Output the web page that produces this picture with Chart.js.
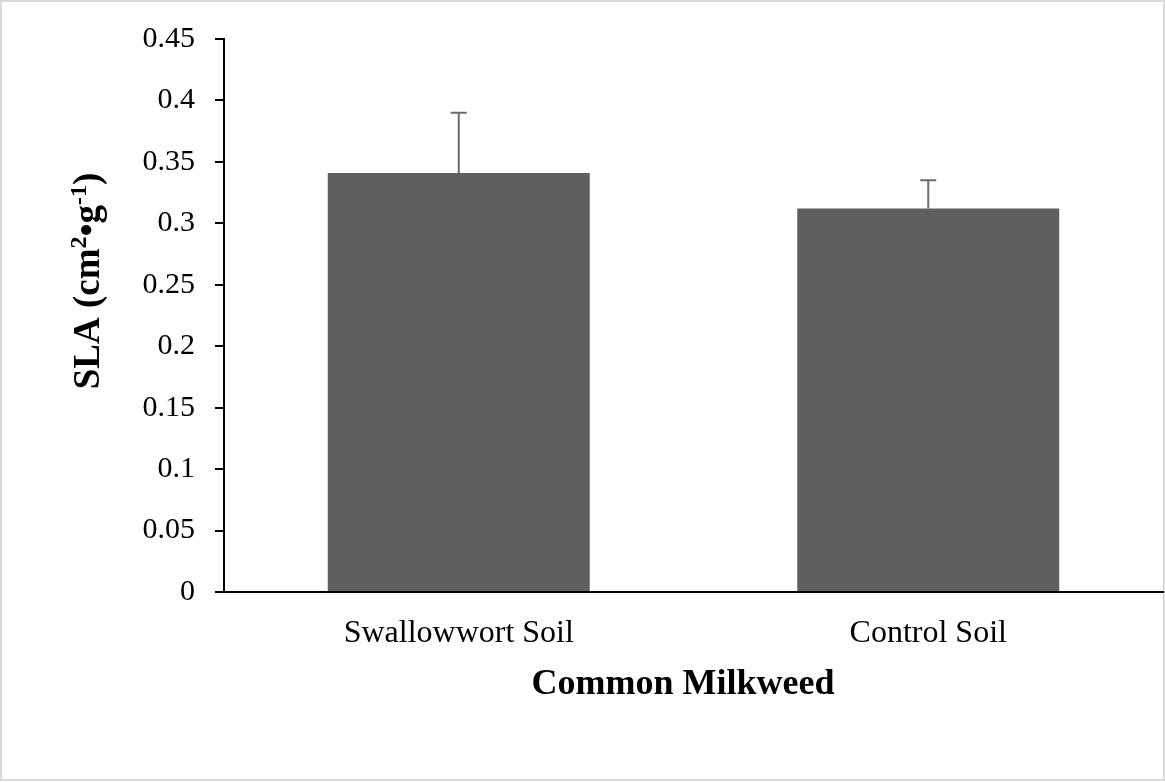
<!DOCTYPE html>
<html>
<head>
<meta charset="utf-8">
<script src="https://cdn.jsdelivr.net/npm/chart.js@4.4.1/dist/chart.umd.min.js"></script>
<style>
  body { margin: 0; background: #fff; }
  canvas { display: block; }
</style>
</head>
<body>
<canvas id="myChart" width="1165" height="782"></canvas>
<script>
let categories = ['Swallowwort Soil', 'Control Soil'];
let slaMeans = [0.341, 0.312];
let slaErrors = [0.049, 0.023];
let yMin = 0, yMax = 0.45, yStep = 0.05;

let serif = "'Liberation Serif', 'Times New Roman', serif";

// page frame + white background
let framePlugin = {
  id: 'frame',
  beforeDraw: (chart) => {
    let c = chart.ctx;
    c.save();
    c.fillStyle = '#fff';
    c.fillRect(0, 0, chart.width, chart.height);
    c.strokeStyle = '#d9d9d9';
    c.lineWidth = 2;
    c.strokeRect(1, 1, chart.width - 2, chart.height - 3);
    c.restore();
  }
};

// upward-only error bars
let errorPlugin = {
  id: 'errbars',
  afterDatasetsDraw: (chart) => {
    let c = chart.ctx;
    let meta = chart.getDatasetMeta(0);
    let yScale = chart.scales.y;
    c.save();
    c.strokeStyle = '#6b6b6b';
    c.lineWidth = 2;
    meta.data.forEach((bar, i) => {
      let yTop = yScale.getPixelForValue(slaMeans[i] + slaErrors[i]);
      c.beginPath();
      c.moveTo(bar.x, bar.y);
      c.lineTo(bar.x, yTop);
      c.moveTo(bar.x - 8, yTop);
      c.lineTo(bar.x + 8, yTop);
      c.stroke();
    });
    c.restore();
  }
};

// axis titles (y title needs superscripts)
let titlePlugin = {
  id: 'titles',
  afterDraw: (chart) => {
    let c = chart.ctx;
    c.save();
    c.fillStyle = '#000';
    c.textBaseline = 'alphabetic';
    c.font = 'bold 36px ' + serif;
    c.textAlign = 'center';
    c.fillText('Common Milkweed', 683, 694);

    let parts = [
      { t: 'SLA (cm', sup: false },
      { t: '2', sup: true },
      { t: '•g', sup: false },
      { t: '-1', sup: true },
      { t: ')', sup: false }
    ];
    let big = 'bold 37px ' + serif, small = 'bold 24px ' + serif;
    let total = 0;
    parts.forEach(p => { c.font = p.sup ? small : big; p.w = c.measureText(p.t).width; total += p.w; });
    c.translate(99, 281);
    c.rotate(-Math.PI / 2);
    c.textAlign = 'left';
    let x = -total / 2;
    parts.forEach(p => {
      c.font = p.sup ? small : big;
      c.fillText(p.t, x, p.sup ? -13 : 0);
      x += p.w;
    });
    c.restore();
  }
};

let ctx = document.getElementById('myChart').getContext('2d');
let myChart = new Chart(ctx, {
  type: 'bar',
  data: {
    labels: categories,
    datasets: [{
      data: slaMeans,
      backgroundColor: '#5f5f5f',
      borderWidth: 0,
      barPercentage: 0.558,
      categoryPercentage: 1
    }]
  },
  options: {
    responsive: false,
    animation: false,
    layout: { padding: { left: 0, right: 2, top: 39, bottom: 0 } },
    plugins: {
      legend: { display: false },
      tooltip: { enabled: false }
    },
    scales: {
      x: {
        grid: { display: false, drawTicks: false },
        border: { display: true, color: '#000', width: 2 },
        ticks: { color: '#000', padding: 22, font: { family: serif, size: 32 } },
        afterFit: (scale) => { scale.height = 190; }
      },
      y: {
        min: yMin,
        max: yMax,
        grid: { drawOnChartArea: false, color: '#000', lineWidth: 2, tickLength: 9 },
        border: { display: true, color: '#000', width: 2 },
        ticks: {
          stepSize: yStep,
          color: '#000',
          padding: 20,
          font: { family: serif, size: 30 },
          callback: (v) => String(Number(v.toFixed(2)))
        },
        afterFit: (scale) => { scale.width = 224; }
      }
    }
  },
  plugins: [framePlugin, errorPlugin, titlePlugin]
});
</script>
</body>
</html>
